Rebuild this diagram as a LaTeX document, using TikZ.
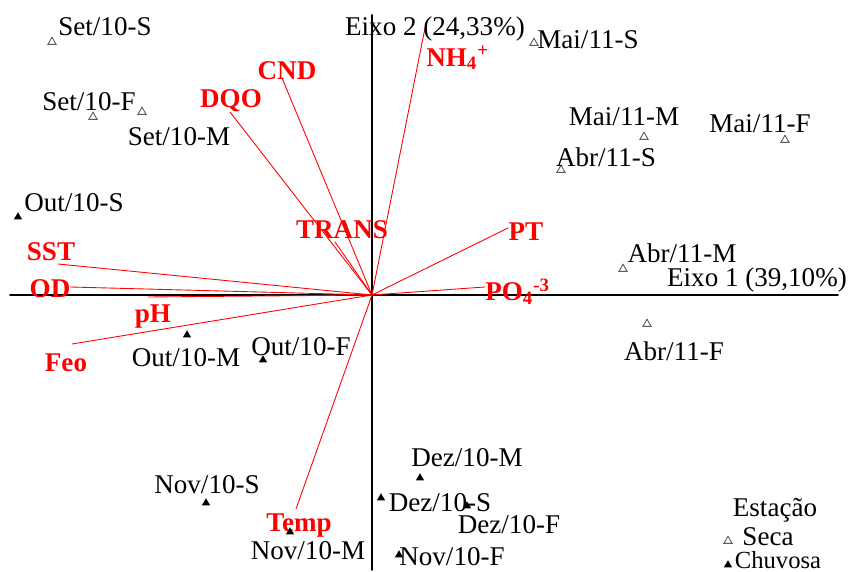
\documentclass[tikz,border=0pt]{standalone}
\usepackage{amsmath}
\usepackage{fontspec}
\setmainfont{Liberation Serif}
\usepackage{tkz-euclide}
\usetikzlibrary{shapes.geometric}

\tikzset{
  eixo/.style={line width=1.1pt},
  vetor/.style={red, line width=.5pt},
  var/.style={text=red, font=\fontsize{15.4}{18}\selectfont\bfseries, inner sep=0pt},
  amostra/.style={font=\fontsize{15.4}{18}\selectfont, inner sep=0pt},
  seca/.style={regular polygon, regular polygon sides=3, draw=gray!70!black, fill=white, line width=.5pt, minimum size=.19cm, inner sep=0pt},
  chuvosa/.style={regular polygon, regular polygon sides=3, fill=black, minimum size=.19cm, inner sep=0pt},
}

\begin{document}
\begin{tikzpicture}
                    \useasboundingbox (0,0) rectangle (17.02,11.44);
                    \tkzDefPoints{7.44/5.54/O,7.44/11.14/Ya,7.44/0.04/Yb,0.20/5.54/Xa,16.76/5.54/Xb}
                    \tkzDrawSegments[eixo](Ya,Yb Xa,Xb)
                    \tkzDefPoints{8.50/10.88/NH,5.64/9.88/CND,4.60/9.20/DQO,6.70/6.60/TRANS,1.16/6.16/SST,1.40/5.70/OD}
                    \tkzDefPoints{2.96/5.50/pH,1.44/4.56/Feo,5.92/1.26/Temp,10.16/6.88/PT,9.70/5.70/PO}
                    \tkzDrawSegments[vetor](O,NH O,CND O,DQO O,TRANS O,SST O,OD O,pH O,Feo O,Temp O,PT O,PO)
                    \node[var, anchor=west] (lNH) at (8.52,10.28) {NH\textsubscript{4}\textsuperscript{+}};
                    \node[var] (lCND) at (5.74,10.02) {CND};
                    \node[var] (lDQO) at (4.62,9.42) {DQO};
                    \node[var] (lTRANS) at (6.84,6.84) {TRANS};
                    \node[var] (lSST) at (1.02,6.40) {SST};
                    \node[var] (lOD) at (1.00,5.66) {OD};
                    \node[var] (lpH) at (3.06,5.10) {pH};
                    \node[var] (lFeo) at (1.32,4.18) {Feo};
                    \node[var] (lTemp) at (5.98,0.92) {Temp};
                    \node[var] (lPT) at (10.52,6.80) {PT};
                    \node[var, anchor=west] (lPO) at (9.70,5.60) {PO\textsubscript{4}\textsuperscript{-3}};
                    \node[amostra] (e1) at (15.14,5.84) {Eixo 1 (39,10\%)};
                    \node[amostra] (e2) at (8.70,10.86) {Eixo 2 (24,33\%)};
                    \node[seca] (s1) at (1.04,10.60) {};
                    \node[seca] (s2) at (2.84,9.20) {};
                    \node[seca] (s3) at (1.86,9.10) {};
                    \node[seca] (s4) at (10.68,10.58) {};
                    \node[seca] (s5) at (12.88,8.70) {};
                    \node[seca] (s6) at (15.70,8.64) {};
                    \node[seca] (s7) at (11.22,8.04) {};
                    \node[seca] (s8) at (12.46,6.06) {};
                    \node[seca] (s9) at (12.94,4.96) {};
                    \node[chuvosa] (c1) at (0.36,7.10) {};
                    \node[chuvosa] (c2) at (3.74,4.74) {};
                    \node[chuvosa] (c3) at (5.26,4.24) {};
                    \node[chuvosa] (c4) at (4.12,1.38) {};
                    \node[chuvosa] (c5) at (5.80,0.80) {};
                    \node[chuvosa] (c6) at (8.40,1.88) {};
                    \node[chuvosa] (c7) at (7.62,1.48) {};
                    \node[chuvosa] (c8) at (9.34,1.32) {};
                    \node[chuvosa] (c9) at (7.98,0.34) {};
                    \node[amostra] (lSetS) at (2.10,10.90) {Set/10-S};
                    \node[amostra] (lSetF) at (1.78,9.40) {Set/10-F};
                    \node[amostra] (lSetM) at (3.58,8.70) {Set/10-M};
                    \node[amostra] (lMaiS) at (11.76,10.64) {Mai/11-S};
                    \node[amostra] (lMaiM) at (12.48,9.10) {Mai/11-M};
                    \node[amostra] (lMaiF) at (15.20,8.96) {Mai/11-F};
                    \node[amostra] (lAbrS) at (12.12,8.30) {Abr/11-S};
                    \node[amostra] (lAbrM) at (13.64,6.38) {Abr/11-M};
                    \node[amostra] (lAbrF) at (13.48,4.42) {Abr/11-F};
                    \node[amostra] (lOutS) at (1.48,7.38) {Out/10-S};
                    \node[amostra] (lOutM) at (3.72,4.28) {Out/10-M};
                    \node[amostra] (lOutF) at (6.02,4.50) {Out/10-F};
                    \node[amostra] (lNovS) at (4.14,1.74) {Nov/10-S};
                    \node[amostra] (lNovM) at (6.16,0.42) {Nov/10-M};
                    \node[amostra] (lNovF) at (9.04,0.30) {Nov/10-F};
                    \node[amostra] (lDezM) at (9.34,2.28) {Dez/10-M};
                    \node[amostra] (lDezS) at (8.80,1.38) {Dez/10-S};
                    \node[amostra] (lDezF) at (10.18,0.94) {Dez/10-F};
                    \node[amostra] (leg) at (15.50,1.24) {Estação};
                    \node[seca] (legS) at (14.56,0.62) {};
                    \node[amostra] (lSeca) at (15.36,0.70) {Seca};
                    \node[chuvosa] (legC) at (14.56,0.14) {};
                    \node[amostra, font=\fontsize{14}{16}\selectfont] (lChuv) at (15.56,0.24) {Chuvosa};
                \end{tikzpicture}
\end{document}
